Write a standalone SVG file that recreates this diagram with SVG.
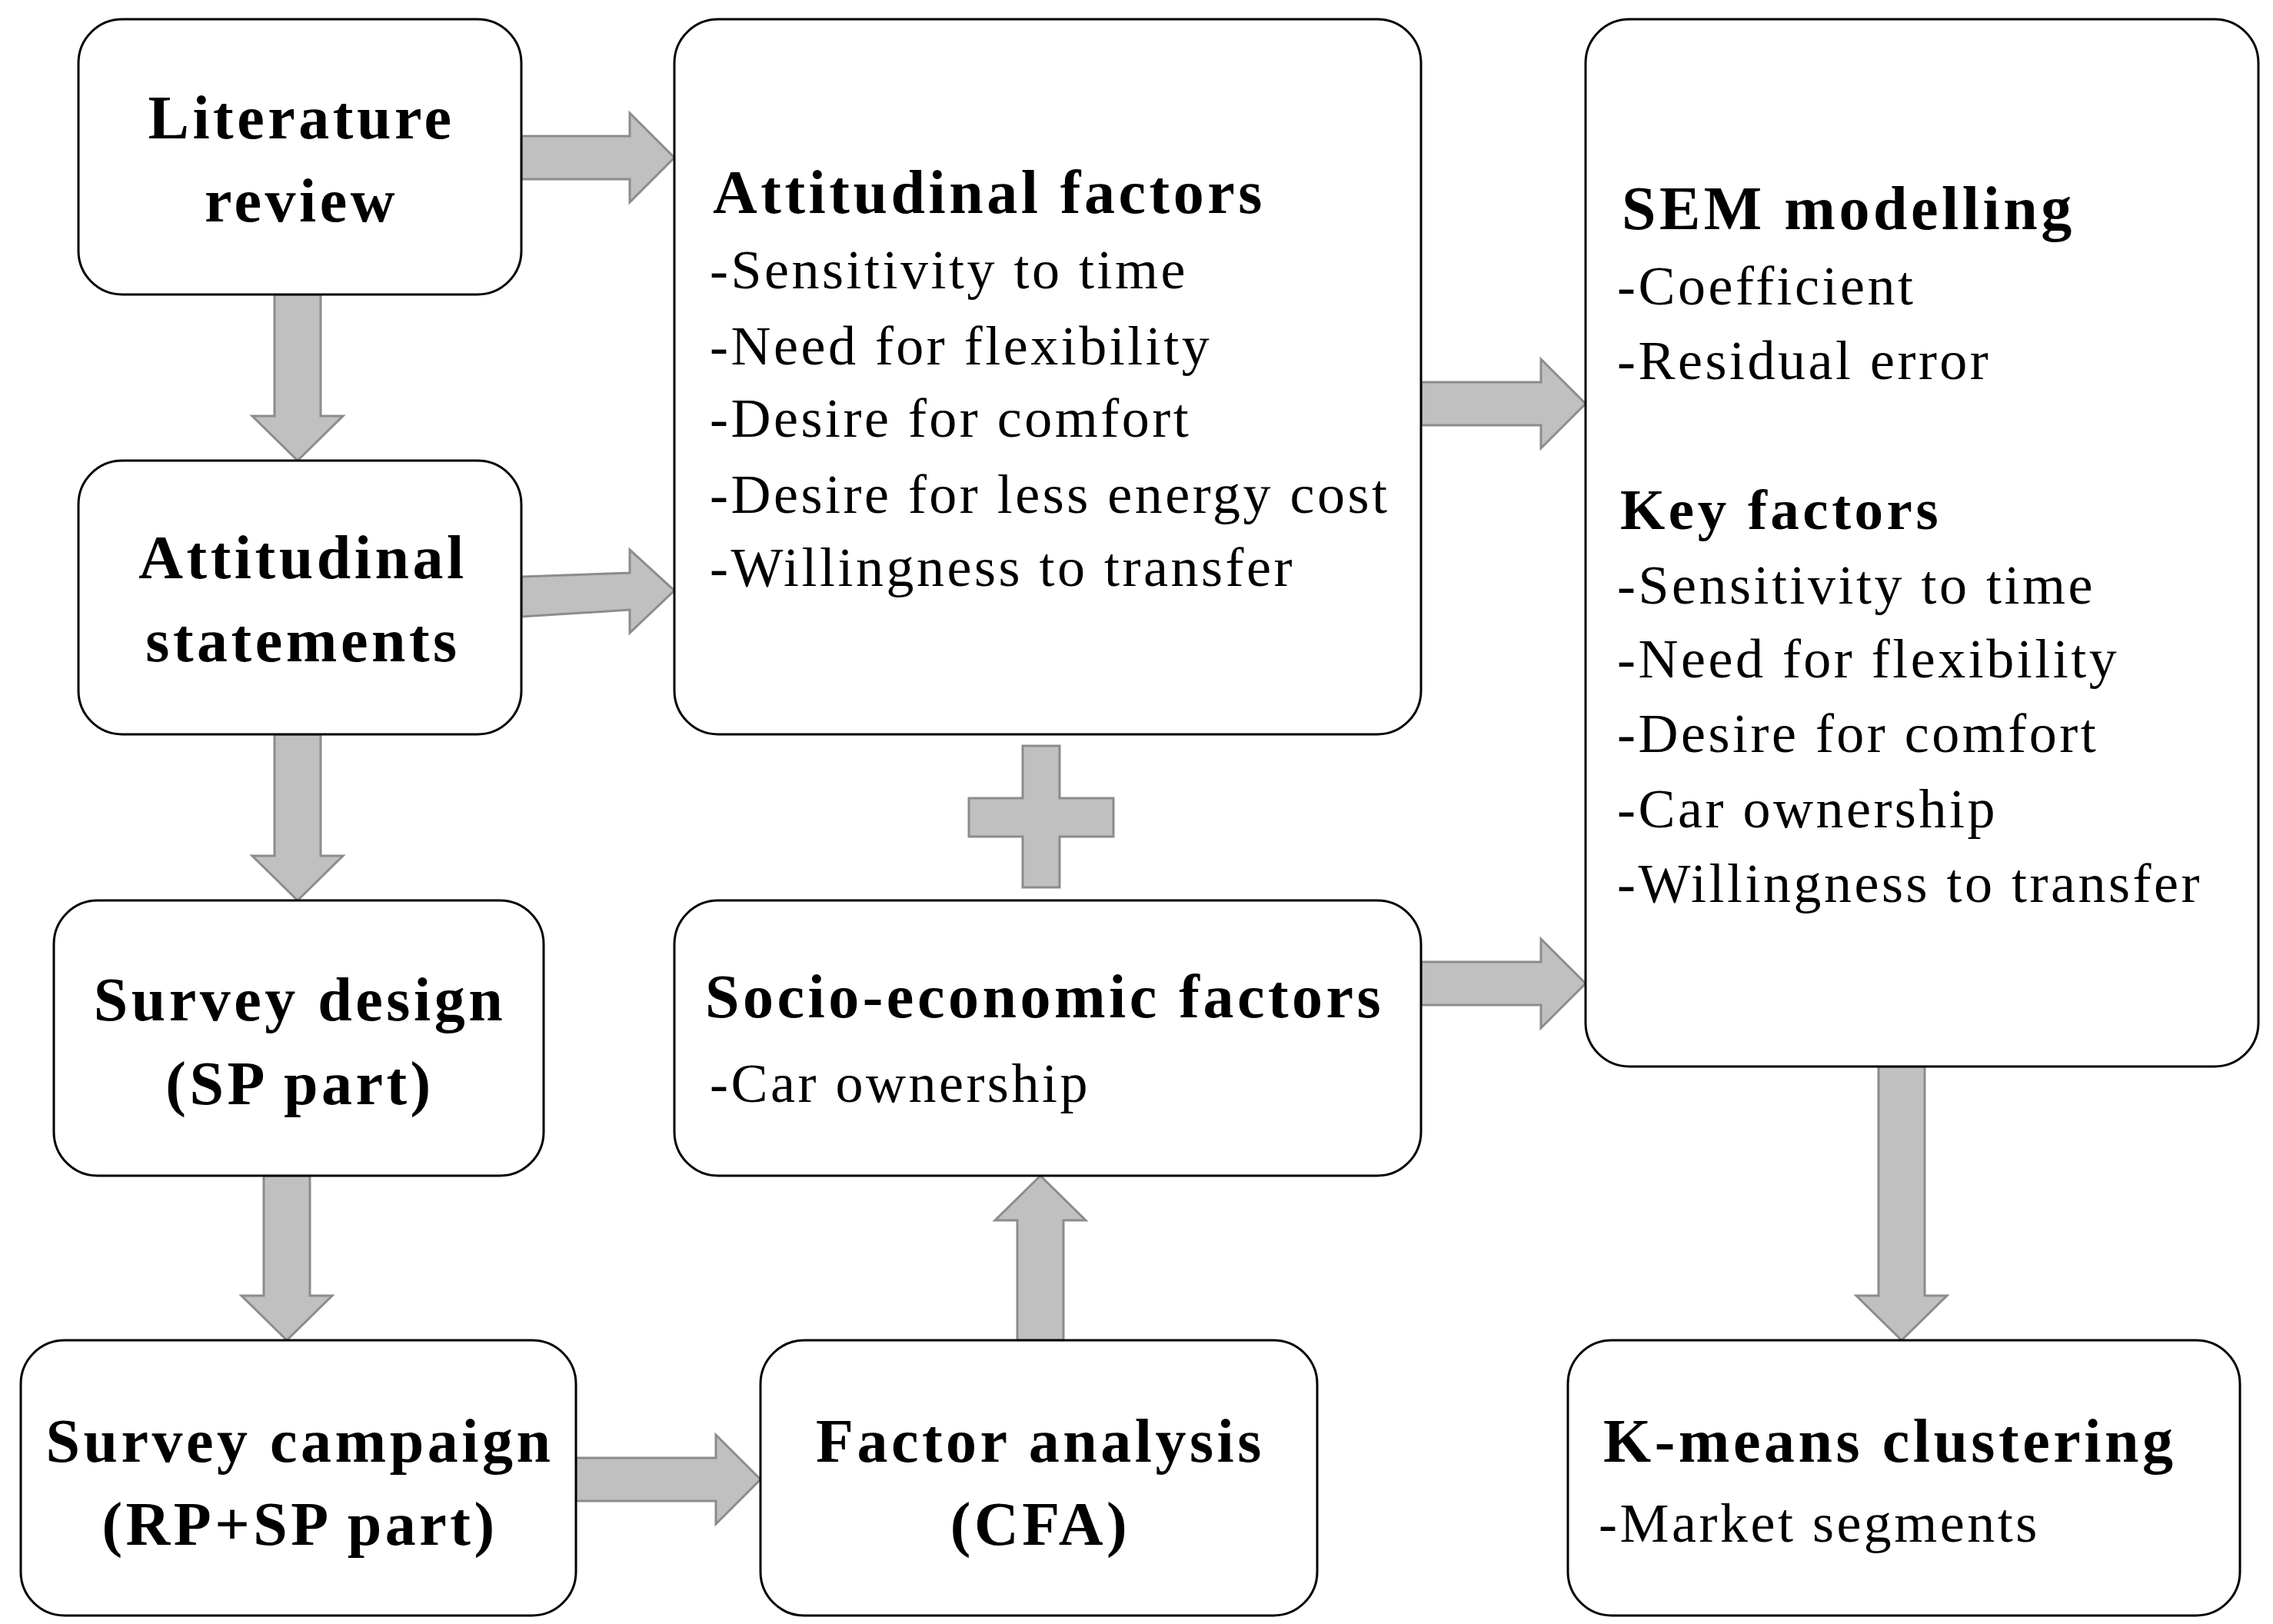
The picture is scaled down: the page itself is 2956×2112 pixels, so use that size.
<svg xmlns="http://www.w3.org/2000/svg" width="2956" height="2112" viewBox="0 0 2956 2112">
<style>
.box{fill:#fff;stroke:#000;stroke-width:3}
.arr{fill:#c0c0c0;stroke:#8c8c8c;stroke-width:3}
.t{font-family:"Liberation Serif",serif;font-size:72px;letter-spacing:3.5px;fill:#000}
.b{font-family:"Liberation Serif",serif;font-size:80px;letter-spacing:4.5px;font-weight:bold;fill:#000}
.c{text-anchor:middle}
</style>
<rect width="2956" height="2112" fill="#fff"/>
<g id="connectors">
<polygon class="arr" points="678,177 819,177 819,147 877,205 819,263 819,233 678,233"/>
<polygon class="arr" points="678,750 819,745 819,715 877,768 819,823 819,793 678,802"/>
<polygon class="arr" points="1848,497 2004,497 2004,467 2062,525 2004,583 2004,553 1848,553"/>
<polygon class="arr" points="1848,1251 2004,1251 2004,1221 2062,1279 2004,1337 2004,1307 1848,1307"/>
<polygon class="arr" points="749,1896 931,1896 931,1866 989,1924 931,1982 931,1952 749,1952"/>
<polygon class="arr" points="357,383 417,383 417,541 446,541 387,599 328,541 357,541"/>
<polygon class="arr" points="357,955 417,955 417,1113 446,1113 387,1171 328,1113 357,1113"/>
<polygon class="arr" points="343,1529 403,1529 403,1685 432,1685 373,1743 314,1685 343,1685"/>
<polygon class="arr" points="2443,1387 2503,1387 2503,1685 2532,1685 2473,1743 2414,1685 2443,1685"/>
<polygon class="arr" points="1323,1743 1383,1743 1383,1587 1412,1587 1353,1529 1294,1587 1323,1587"/>
<polygon class="arr" points="1330,970 1378,970 1378,1038 1448,1038 1448,1088 1378,1088 1378,1154 1330,1154 1330,1088 1260,1088 1260,1038 1330,1038"/>
</g>
<g id="lit"><rect class="box" x="102" y="25" width="576" height="358" rx="57"/>
<text class="b c" x="392" y="180">Literature</text><text class="b c" x="392" y="288">review</text></g>
<g id="attst"><rect class="box" x="102" y="599" width="576" height="356" rx="57"/>
<text class="b c" x="394" y="752">Attitudinal</text><text class="b c" x="394" y="860">statements</text></g>
<g id="sd"><rect class="box" x="70" y="1171" width="637" height="358" rx="57"/>
<text class="b c" x="390" y="1327">Survey design</text><text class="b c" x="390" y="1436">(SP part)</text></g>
<g id="sc"><rect class="box" x="27" y="1743" width="722" height="358" rx="57"/>
<text class="b c" x="390" y="1901">Survey campaign</text><text class="b c" x="390" y="2009">(RP+SP part)</text></g>
<g id="af"><rect class="box" x="877" y="25" width="971" height="930" rx="57"/>
<text class="b" x="927" y="277">Attitudinal factors</text>
<text class="t" x="923" y="375">-Sensitivity to time</text>
<text class="t" x="923" y="474">-Need for flexibility</text>
<text class="t" x="923" y="568">-Desire for comfort</text>
<text class="t" x="923" y="667">-Desire for less energy cost</text>
<text class="t" x="923" y="762">-Willingness to transfer</text></g>
<g id="se"><rect class="box" x="877" y="1171" width="971" height="358" rx="57"/>
<text class="b" x="917" y="1323">Socio-economic factors</text>
<text class="t" x="923" y="1433">-Car ownership</text></g>
<g id="fa"><rect class="box" x="989" y="1743" width="724" height="358" rx="57"/>
<text class="b c" x="1353" y="1901">Factor analysis</text><text class="b c" x="1353" y="2009">(CFA)</text></g>
<g id="sem"><rect class="box" x="2062" y="25" width="875" height="1362" rx="57"/>
<text class="b" x="2109" y="298">SEM modelling</text>
<text class="t" x="2103" y="396">-Coefficient</text>
<text class="t" x="2103" y="493">-Residual error</text>
<text class="b" x="2107" y="688" style="font-size:75px">Key factors</text>
<text class="t" x="2103" y="785">-Sensitivity to time</text>
<text class="t" x="2103" y="881">-Need for flexibility</text>
<text class="t" x="2103" y="978">-Desire for comfort</text>
<text class="t" x="2103" y="1076">-Car ownership</text>
<text class="t" x="2103" y="1173">-Willingness to transfer</text></g>
<g id="km"><rect class="box" x="2039" y="1743" width="874" height="358" rx="57"/>
<text class="b" x="2085" y="1901">K-means clustering</text>
<text class="t" x="2079" y="2005">-Market segments</text></g>
</svg>
